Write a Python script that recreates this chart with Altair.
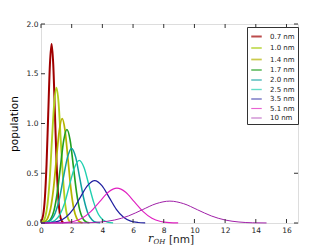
import altair as alt
import pandas as pd

# Series labels and colours
labels = ["0.7 nm", "1.0 nm", "1.4 nm", "1.7 nm", "2.0 nm", "2.5 nm", "3.5 nm", "5.1 nm", "10 nm"]
colors = ["#a00000", "#b0d020", "#b4b400", "#20a020", "#10a0a0", "#20d0b0", "#2020a0", "#e020c0", "#a020a8"]
widths = [2.0, 1.0, 1.0, 1.0, 1.0, 1.0, 1.0, 1.0, 1.3]

# Values (r in nm, population)
r_07 = [0.0, 0.14, 0.25, 0.36, 0.47, 0.58, 0.69, 0.80, 0.91, 1.02, 1.13, 1.24, 1.35, 1.46]
p_07 = [0.012, 0.079, 0.244, 0.584, 1.092, 1.589, 1.80, 1.589, 1.092, 0.584, 0.244, 0.079, 0.020, 0.004]

r_10 = [0.0, 0.13, 0.28, 0.42, 0.57, 0.71, 0.86, 1.0, 1.15, 1.29, 1.44, 1.58, 1.73, 1.87, 2.02]
p_10 = [0.003, 0.015, 0.060, 0.184, 0.442, 0.825, 1.200, 1.36, 1.200, 0.825, 0.442, 0.184, 0.060, 0.015, 0.003]

r_14 = [0.0, 0.05, 0.24, 0.43, 0.62, 0.81, 1.0, 1.19, 1.38, 1.57, 1.76, 1.95, 2.14, 2.33, 2.52, 2.71]
p_14 = [0.001, 0.002, 0.012, 0.046, 0.142, 0.341, 0.637, 0.927, 1.05, 0.927, 0.637, 0.341, 0.142, 0.046, 0.012, 0.002]

r_17 = [0.0, 0.22, 0.43, 0.64, 0.85, 1.06, 1.27, 1.48, 1.69, 1.90, 2.11, 2.32, 2.53, 2.74, 2.95, 3.16]
p_17 = [0.0, 0.002, 0.010, 0.041, 0.127, 0.305, 0.570, 0.830, 0.94, 0.830, 0.570, 0.305, 0.127, 0.041, 0.010, 0.002]

r_20 = [0.0, 0.14, 0.40, 0.67, 0.93, 1.20, 1.46, 1.73, 1.99, 2.26, 2.52, 2.79, 3.05, 3.32, 3.58, 3.85]
p_20 = [0.0, 0.002, 0.008, 0.033, 0.101, 0.244, 0.455, 0.662, 0.75, 0.662, 0.455, 0.244, 0.101, 0.033, 0.008, 0.002]

r_25 = [0.0, 0.29, 0.60, 0.92, 1.23, 1.55, 1.86, 2.18, 2.49, 2.81, 3.12, 3.44, 3.75, 4.07, 4.38, 4.70]
p_25 = [0.0, 0.001, 0.007, 0.028, 0.085, 0.205, 0.382, 0.556, 0.63, 0.556, 0.382, 0.205, 0.085, 0.028, 0.007, 0.001]

r_35 = [0.0, 0.21, 0.68, 1.15, 1.62, 2.09, 2.56, 3.03, 3.5, 3.97, 4.44, 4.91, 5.38, 5.85, 6.32, 6.79]
p_35 = [0.0, 0.001, 0.005, 0.019, 0.058, 0.138, 0.258, 0.375, 0.425, 0.375, 0.258, 0.138, 0.058, 0.019, 0.005, 0.001]

r_51 = [0.0, 0.96, 1.53, 2.10, 2.67, 3.24, 3.81, 4.38, 4.95, 5.52, 6.09, 6.66, 7.23, 7.80, 8.37, 8.94]
p_51 = [0.0, 0.001, 0.004, 0.015, 0.047, 0.114, 0.212, 0.309, 0.35, 0.309, 0.212, 0.114, 0.047, 0.015, 0.004, 0.001]

r_100 = [0.0, 2.1, 3.0, 3.9, 4.8, 5.7, 6.6, 7.5, 8.4, 9.3, 10.2, 11.1, 12.0, 12.9, 13.8, 14.7]
p_100 = [0.0, 0.0005, 0.002, 0.010, 0.030, 0.071, 0.133, 0.194, 0.22, 0.194, 0.133, 0.071, 0.030, 0.010, 0.002, 0.0005]

x_ticks = [0, 2, 4, 6, 8, 10, 12, 14, 16]
y_ticks = [0.0, 0.5, 1.0, 1.5, 2.0]

series = [(r_07, p_07), (r_10, p_10), (r_14, p_14), (r_17, p_17), (r_20, p_20),
          (r_25, p_25), (r_35, p_35), (r_51, p_51), (r_100, p_100)]
rows = []
for i, (lab, (rs, ps)) in enumerate(zip(labels, series)):
    for j, (r, p) in enumerate(zip(rs, ps)):
        rows.append({"series": lab, "order": i, "idx": j, "r": r, "p": p})
df = pd.DataFrame(rows)

W, H = 257, 199
FONT = "DejaVu Sans"

xs = alt.Scale(domain=[0, 16.75], nice=False, zero=False)
ys = alt.Scale(domain=[0, 2.0], nice=False)

xa = alt.Axis(values=x_ticks, format="d", ticks=False, domain=False, grid=False,
              labelFontSize=7.5, labelFont=FONT, labelPadding=3, title=None,
              labelOverlap=False, labelFlush=False, labelColor="#222")
ya = alt.Axis(values=y_ticks, format=".1f", ticks=False, domain=False, grid=False,
              labelFontSize=7.5, labelFont=FONT, labelPadding=3, labelOverlap=False,
              labelFlush=False,
              title="population", titleFontSize=10.5, titleFont=FONT,
              titleFontWeight="normal", titlePadding=7, labelColor="#222")

lines = alt.Chart(df).mark_line(interpolate="monotone").encode(
    x=alt.X("r:Q", scale=xs, axis=xa),
    y=alt.Y("p:Q", scale=ys, axis=ya),
    color=alt.Color("series:N", scale=alt.Scale(domain=labels, range=colors), sort=labels,
                    legend=alt.Legend(title=None, orient="none", legendX=206, legendY=3,
                                      symbolType="stroke", symbolSize=110, symbolStrokeWidth=2,
                                      symbolOpacity=0.7,
                                      labelFontSize=7, labelFont=FONT, labelOffset=7,
                                      padding=3, rowPadding=0.5, strokeColor="#333",
                                      fillColor="white", labelColor="#222")),
    strokeWidth=alt.StrokeWidth("series:N", scale=alt.Scale(domain=labels, range=widths), legend=None),
    detail="series:N",
    order="idx:Q",
)

xt = pd.DataFrame({"r": x_ticks})
yt = pd.DataFrame({"p": y_ticks})
tick_color = "#333"
bx = alt.Chart(xt).mark_rule(color=tick_color, strokeWidth=1).encode(
    x=alt.X("r:Q", scale=xs, axis=xa), y=alt.value(H), y2=alt.value(H - 4))
tx = alt.Chart(xt).mark_rule(color=tick_color, strokeWidth=1).encode(
    x=alt.X("r:Q", scale=xs, axis=xa), y=alt.value(0), y2=alt.value(4))
ly = alt.Chart(yt).mark_rule(color=tick_color, strokeWidth=1).encode(
    y=alt.Y("p:Q", scale=ys, axis=ya), x=alt.value(0), x2=alt.value(4))
ry = alt.Chart(yt).mark_rule(color=tick_color, strokeWidth=1).encode(
    y=alt.Y("p:Q", scale=ys, axis=ya), x=alt.value(W), x2=alt.value(W - 4))

tdf = pd.DataFrame({"a": [0]})
t_r = alt.Chart(tdf).mark_text(text="r", font="DejaVu Serif", fontStyle="italic", fontSize=11,
                               align="left", baseline="alphabetic", color="#222").encode(
    x=alt.value(107), y=alt.value(218))
t_oh = alt.Chart(tdf).mark_text(text="OH", font="DejaVu Serif", fontStyle="italic", fontSize=7,
                                align="left", baseline="alphabetic", color="#222").encode(
    x=alt.value(112.5), y=alt.value(220))
t_nm = alt.Chart(tdf).mark_text(text="[nm]", font=FONT, fontSize=10.5,
                                align="left", baseline="alphabetic", color="#222").encode(
    x=alt.value(128), y=alt.value(219))

chart = alt.layer(lines, bx, tx, ly, ry, t_r, t_oh, t_nm).properties(
    width=W, height=H,
    autosize=alt.AutoSizeParams(type="none"),
    padding={"left": 33, "top": 16, "right": 26, "bottom": 26},
).configure_view(stroke="#222", strokeWidth=1).configure(background="white")

chart.save("out.html", embed_options={"renderer": "svg", "actions": False})
